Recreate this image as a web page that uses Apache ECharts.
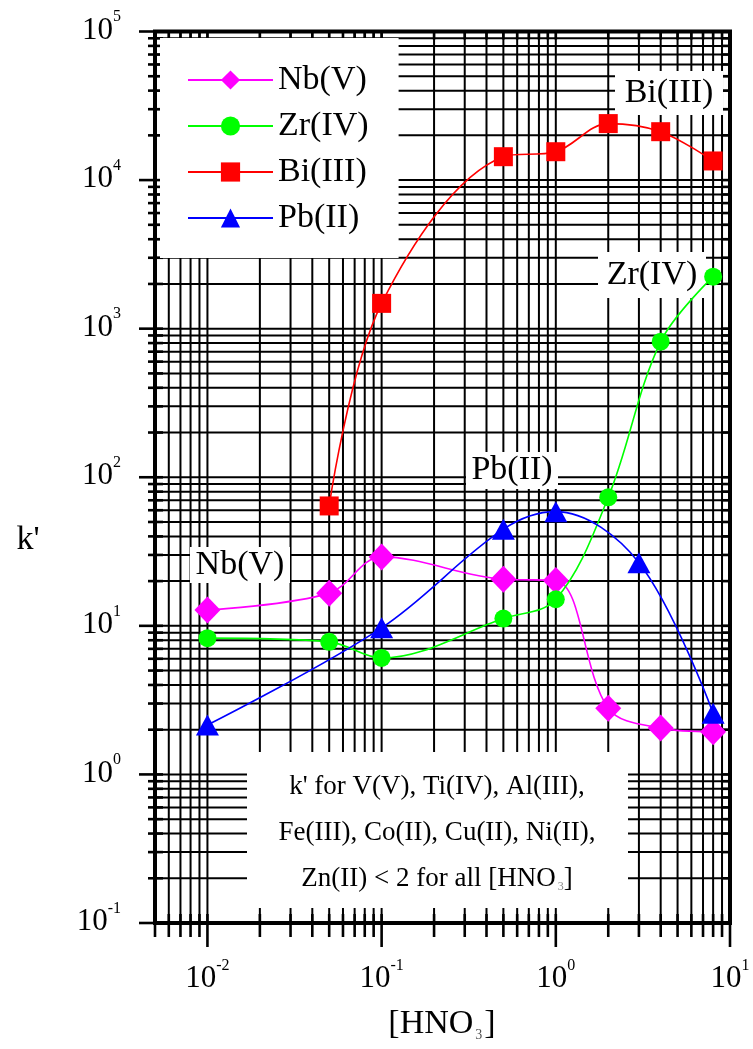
<!DOCTYPE html>
<html>
<head>
<meta charset="utf-8">
<script src="https://cdn.jsdelivr.net/npm/echarts@6/dist/echarts.min.js"></script>
<style>
  html, body { margin: 0; padding: 0; background: #fff; }
  #chart { width: 753px; height: 1049px; }
</style>
</head>
<body>
<div id="chart"></div>
<script>
// Capacity factor k' versus nitric acid concentration
const seriesNames = ['Nb(V)', 'Zr(IV)', 'Bi(III)', 'Pb(II)'];
const seriesColors = ['#ff00ff', '#00ff00', '#ff0000', '#0000ff'];

const nbX = [0.01, 0.05, 0.1, 0.5, 1, 2, 4, 8];
const nbK = [12.8, 16.6, 29.1, 20.6, 20.2, 2.79, 2.05, 1.94];

const zrX = [0.01, 0.05, 0.1, 0.5, 1, 2, 4, 8];
const zrK = [8.26, 7.8, 6.08, 11.2, 15.1, 73.3, 818, 2240];

const biX = [0.05, 0.1, 0.5, 1, 2, 4, 8];
const biK = [64.1, 1480, 14370, 15520, 24000, 21170, 13450];

const pbX = [0.01, 0.1, 0.5, 1, 3, 8];
const pbK = [2.15, 9.7, 44.7, 58.7, 26.6, 2.58];

// axis ranges and tick layout (decades with 2..9 subdivisions)
const xRange = [0.005, 10];
const yRange = [0.1, 100000];
const xDecades = [0.001, 0.01, 0.1, 1];
const yDecades = [0.1, 1, 10, 100, 1000, 10000];
const subSteps = [1, 2, 3, 4, 5, 6, 7, 8, 9];

const xTitle = '[HNO{s|3}]';
const yTitle = "k'";
const noteLines = [
  "k' for V(V), Ti(IV), Al(III),",
  "Fe(III), Co(II), Cu(II), Ni(II),",
  "Zn(II) < 2 for all [HNO{s|3}]"
];

const FONT = "'Liberation Serif', 'Times New Roman', serif";

function tickList(decades, range) {
  const out = [];
  decades.forEach(d => subSteps.forEach(s => {
    const v = +(d * s).toPrecision(6);
    if (v >= range[0] * 0.9999 && v <= range[1] * 1.0001) out.push({ v: v, major: s === 1 });
  }));
  const last = range[1];
  if (!out.some(t => Math.abs(t.v - last) < 1e-9)) out.push({ v: last, major: true });
  return out;
}
const xTicks = tickList(xDecades, xRange);
const yTicks = tickList(yDecades, yRange);

function pairs(xs, ys) { return xs.map((x, i) => [x, ys[i]]); }

function powerLabel(v) {
  const l = Math.log10(v);
  const e = Math.round(l);
  if (Math.abs(l - e) > 1e-6) return '';
  return '{b|10}{e|' + e + '}';
}

// grid lines and tick marks, placed through the axes' own log scales
function gridRender(params, api) {
  const children = [];
  const seg = (x1, y1, x2, y2, w) => children.push({
    type: 'line', silent: true,
    shape: { x1: x1, y1: y1, x2: x2, y2: y2 },
    style: { stroke: '#000', lineWidth: w }
  });
  const bl = api.coord([xRange[0], yRange[0]]);
  const tr = api.coord([xRange[1], yRange[1]]);
  const left = bl[0], bottom = bl[1], right = tr[0], top = tr[1];
  xTicks.forEach(t => {
    const px = api.coord([t.v, yRange[0]])[0];
    seg(px, top, px, bottom, 2);
    seg(px, bottom - 9, px, bottom + (t.major ? 24 : 14), 2.6);
    seg(px, top, px, top + 8, 2.6);
  });
  yTicks.forEach(t => {
    const py = api.coord([xRange[0], t.v])[1];
    seg(left, py, right, py, 2);
    seg(left - (t.major ? 16 : 7), py, left + 8, py, 2.6);
    seg(right - 8, py, right, py, 2.6);
  });
  return { type: 'group', children: children };
}

const symbols = [
  { symbol: 'diamond', size: [26, 27] },
  { symbol: 'circle', size: 18 },
  { symbol: 'rect', size: 19 },
  { symbol: 'triangle', size: [23, 21] }
];
const seriesData = [pairs(nbX, nbK), pairs(zrX, zrK), pairs(biX, biK), pairs(pbX, pbK)];

const dataSeries = seriesNames.map((name, i) => ({
  name: name,
  type: 'line',
  data: seriesData[i],
  smooth: 0.35,
  symbol: symbols[i].symbol,
  symbolSize: symbols[i].size,
  showAllSymbol: true,
  lineStyle: { color: seriesColors[i], width: 1.6 },
  itemStyle: { color: seriesColors[i] },
  z: 5
}));

// white label boxes over the grid
const tagBoxes = [
  { text: seriesNames[0], x: 190, y: 547, w: 100, h: 36 },
  { text: seriesNames[3], x: 466, y: 452, w: 92, h: 37 },
  { text: seriesNames[2], x: 615, y: 71, w: 108, h: 44 },
  { text: seriesNames[1], x: 598, y: 252, w: 108, h: 46 }
];
const graphics = [];
tagBoxes.forEach(b => {
  graphics.push({ type: 'rect', z: 3, silent: true,
    shape: { x: b.x, y: b.y, width: b.w, height: b.h }, style: { fill: '#fff' } });
  graphics.push({ type: 'text', z: 3, z2: 10, silent: true,
    x: b.x + b.w / 2, y: b.y + b.h / 2,
    style: { text: b.text, font: '34px ' + FONT, fill: '#000', align: 'center', verticalAlign: 'middle' } });
});
graphics.push({ type: 'rect', z: 3, silent: true,
  shape: { x: 247, y: 752, width: 381, height: 156 }, style: { fill: '#fff' } });
noteLines.forEach((line, i) => {
  graphics.push({ type: 'text', z: 3, z2: 10, silent: true,
    x: 437, y: 787 + i * 46,
    style: { text: line, fill: '#000', align: 'center', verticalAlign: 'middle',
      font: '27px ' + FONT,
      rich: { s: { fontSize: 12, fontFamily: FONT, fill: '#888', verticalAlign: 'bottom', padding: [14, 0, 0, 2] } } } });
});
graphics.push({ type: 'text', silent: true, x: 442, y: 1024,
  style: { text: xTitle, fill: '#000', align: 'center', verticalAlign: 'middle', font: '34px ' + FONT,
    rich: { s: { fontSize: 14, fontFamily: FONT, fill: '#555', padding: [22, 2, 0, 2] } } } });
graphics.push({ type: 'text', silent: true, x: 28, y: 540,
  style: { text: yTitle, fill: '#000', align: 'center', verticalAlign: 'middle', font: '34px ' + FONT } });

const chart = echarts.init(document.getElementById('chart'), null, { renderer: 'canvas' });
chart.setOption({
  animation: false,
  backgroundColor: '#fff',
  grid: {
    left: 155, right: 23, top: 31.5, bottom: 126,
    containLabel: false, outerBoundsMode: 'none',
    show: true, borderColor: '#000', borderWidth: 4, backgroundColor: 'transparent'
  },
  legend: {
    data: seriesNames,
    orient: 'vertical', left: 160, top: 38,
    backgroundColor: '#fff', padding: [24, 30, 22, 27],
    itemGap: 10, itemWidth: 85, itemHeight: 24,
    textStyle: { fontFamily: FONT, fontSize: 34, color: '#000', lineHeight: 36 },
    z: 6, selectedMode: false
  },
  xAxis: {
    type: 'log', logBase: 10, min: xRange[0], max: xRange[1],
    axisLine: { show: false }, axisTick: { show: false }, splitLine: { show: false },
    axisLabel: {
      margin: 35, formatter: powerLabel, color: '#000', showMinLabel: true, showMaxLabel: true,
      rich: {
        b: { fontFamily: FONT, fontSize: 31, lineHeight: 36, verticalAlign: 'bottom', color: '#000' },
        e: { fontFamily: FONT, fontSize: 16, lineHeight: 16, verticalAlign: 'top', color: '#000' }
      }
    }
  },
  yAxis: {
    type: 'log', logBase: 10, min: yRange[0], max: yRange[1],
    axisLine: { show: false }, axisTick: { show: false }, splitLine: { show: false },
    axisLabel: {
      margin: 34, formatter: powerLabel, color: '#000', showMinLabel: true, showMaxLabel: true,
      padding: [0, 0, 8, 0],
      rich: {
        b: { fontFamily: FONT, fontSize: 31, lineHeight: 37, verticalAlign: 'bottom', color: '#000' },
        e: { fontFamily: FONT, fontSize: 16, lineHeight: 16, verticalAlign: 'top', color: '#000' }
      }
    }
  },
  graphic: graphics,
  series: [{
    type: 'custom', name: 'grid', silent: true, z: 1,
    renderItem: gridRender, data: [[1, 1]], encode: { x: 0, y: 1 }, clip: false,
    legendHoverLink: false, tooltip: { show: false }
  }].concat(dataSeries)
});
</script>
</body>
</html>
